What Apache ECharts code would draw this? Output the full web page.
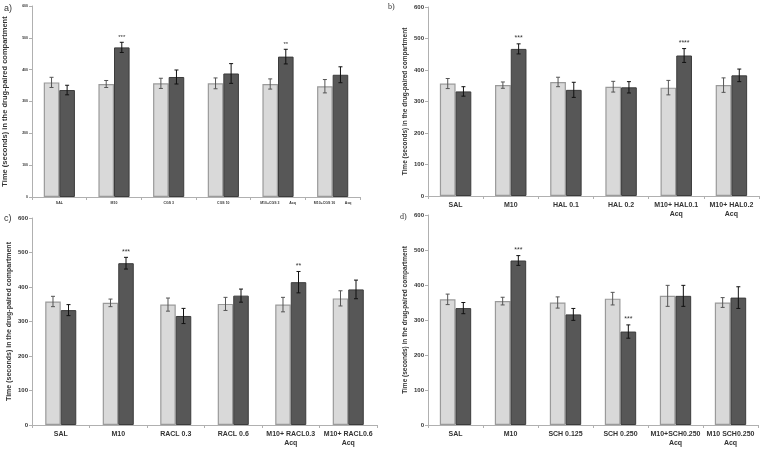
<!DOCTYPE html>
<html><head><meta charset="utf-8">
<script src="https://cdn.jsdelivr.net/npm/echarts@6/dist/echarts.min.js"></script>
<style>html,body{margin:0;padding:0;background:#fff}#c{width:762px;height:451px}</style>
</head><body><div id="c"></div>
<script>
// ---- data ----
const catsA = ['SAL','M10','CGS 3','CGS 10','M10+CGS 3          Acq','M10+CGS 10          Acq'];
const lightA = [360,355,357,357,355,348];
const lightErrA = [16,11,16,17,16,21];
const darkA = [336,470,377,388,441,384];
const darkErrA = [15,16,22,31,23,25];
const sigA = ['','***','','','**',''];

const catsB = ['SAL','M10','HAL 0.1','HAL 0.2','M10+ HAL0.1\nAcq','M10+ HAL0.2\nAcq'];
const lightB = [357,352,362,347,344,352];
const lightErrB = [16,10,15,17,23,23];
const darkB = [332,467,337,345,446,383];
const darkErrB = [15,16,24,18,22,20];
const sigB = ['','***','','','****',''];

const catsC = ['SAL','M10','RACL 0.3','RACL 0.6','M10+ RACL0.3\nAcq','M10+ RACL0.6\nAcq'];
const lightC = [358,354,349,351,349,367];
const lightErrC = [15,11,19,19,21,22];
const darkC = [333,469,316,375,414,393];
const darkErrC = [16,17,22,19,31,27];
const sigC = ['','***','','','**',''];

const catsD = ['SAL','M10','SCH 0.125','SCH 0.250','M10+SCH0.250\nAcq','M10 SCH0.250\nAcq'];
const lightD = [359,354,350,361,369,350];
const lightErrD = [15,11,16,18,30,14];
const darkD = [334,470,316,267,369,364];
const darkErrD = [16,14,17,19,30,31];
const sigD = ['','***','','***','',''];

const yTickLabels = ['0','100','200','300','400','500','600'];
const yName = 'Time (seconds) in the drug-paired compartment';
const panelLetters = ['a)','b)','c)','d)'];

// ---- layout/style ----
const FONT = '"Liberation Sans", Arial, sans-serif';
const panels = [
  {cats:catsA, light:lightA, le:lightErrA, dark:darkA, de:darkErrA, sig:sigA,
   grid:{left:32, top:6, width:328, height:191}, tickFs:3.5, catFs:3.5, nameFs:7.5, nameGap:23, gap:0.43, sigFs:6},
  {cats:catsB, light:lightB, le:lightErrB, dark:darkB, de:darkErrB, sig:sigB,
   grid:{left:428, top:7, width:331, height:189}, tickFs:6, catFs:7, nameFs:6.5, nameGap:19, gap:0.43, sigFs:7},
  {cats:catsC, light:lightC, le:lightErrC, dark:darkC, de:darkErrC, sig:sigC,
   grid:{left:32, top:218, width:345, height:207}, tickFs:6, catFs:7, nameFs:7, nameGap:19, gap:0.46, sigFs:7},
  {cats:catsD, light:lightD, le:lightErrD, dark:darkD, de:darkErrD, sig:sigD,
   grid:{left:428, top:215, width:330, height:210}, tickFs:6, catFs:7, nameFs:6.5, nameGap:19, gap:0.43, sigFs:7}
];

const grids = [], xAxes = [], yAxes = [], series = [];
panels.forEach((p, k) => {
  grids.push(Object.assign({containLabel:false}, p.grid));
  xAxes.push({
    type:'category', gridIndex:k, data:p.cats,
    axisLine:{lineStyle:{color:'#b0b0b0', width:1}},
    axisTick:{show:true, interval:0, length:3, lineStyle:{color:'#b0b0b0'}},
    axisLabel:{interval:0, fontSize:p.catFs, fontWeight:'bold', color:'#333', fontFamily:FONT, margin:4, lineHeight:p.catFs*1.35}
  });
  yAxes.push({
    type:'value', gridIndex:k, min:0, max:600, interval:100,
    name:yName, nameLocation:'middle', nameGap:p.nameGap, nameRotate:90,
    nameTextStyle:{fontSize:p.nameFs, fontWeight:'bold', color:'#333', fontFamily:FONT},
    axisLine:{show:true, lineStyle:{color:'#b0b0b0', width:1}},
    axisTick:{show:true, length:3, lineStyle:{color:'#b0b0b0'}},
    splitLine:{show:false},
    axisLabel:{fontSize:p.tickFs, fontWeight:'bold', color:'#333', fontFamily:FONT, margin:4,
      formatter:(v)=>yTickLabels[Math.round(v/100)]}
  });
  series.push({
    type:'bar', xAxisIndex:k, yAxisIndex:k, data:p.light, barGap:'0%', barCategoryGap:(p.gap*100)+'%',
    itemStyle:{color:'#d9d9d9', borderColor:'#9a9a9a', borderWidth:1.2}, silent:true
  });
  series.push({
    type:'bar', xAxisIndex:k, yAxisIndex:k, data:p.dark, barGap:'0%', barCategoryGap:(p.gap*100)+'%',
    itemStyle:{color:'#575757', borderColor:'#3c3c3c', borderWidth:1}, silent:true
  });
  [[p.light, p.le, -1, '#555'], [p.dark, p.de, 1, '#111']].forEach(([vals, errs, side, col], si) => {
    series.push({
      type:'custom', xAxisIndex:k, yAxisIndex:k, silent:true, z:5,
      data: vals.map((v,i)=>[i, v, errs[i]]),
      renderItem:(params, api) => {
        const i = api.value(0), v = api.value(1), e = api.value(2);
        const s = si === 1 ? p.sig[i] : '';
        const band = api.size([1,0])[0];
        const bw = band*(1-p.gap)/2;
        const cx = api.coord([i, v])[0] + side*bw/2;
        const yt = api.coord([i, v+e])[1], yb = api.coord([i, v-e])[1];
        const cap = 2;
        const ls = {stroke:col, lineWidth:1};
        const ch = [
          {type:'line', shape:{x1:cx, y1:yt, x2:cx, y2:yb}, style:ls},
          {type:'line', shape:{x1:cx-cap, y1:yt, x2:cx+cap, y2:yt}, style:ls},
          {type:'line', shape:{x1:cx-cap, y1:yb, x2:cx+cap, y2:yb}, style:ls}
        ];
        if (s) ch.push({type:'text', style:{text:s, x:cx, y:yt-2, align:'center', verticalAlign:'bottom',
          fontSize:p.sigFs, fontFamily:FONT, fill:'#333'}});
        return {type:'group', children:ch};
      }
    });
  });
});

const chart = echarts.init(document.getElementById('c'), null, {renderer:'canvas'});
chart.setOption({
  animation:false,
  backgroundColor:'#fff',
  grid:grids, xAxis:xAxes, yAxis:yAxes, series:series,
  graphic:[
    {type:'text', left:4, top:4, style:{text:panelLetters[0], fontSize:9, fill:'#333', fontFamily:FONT}},
    {type:'text', left:388, top:3, style:{text:panelLetters[1], fontSize:8, fill:'#333', fontFamily:'"Liberation Serif", serif'}},
    {type:'text', left:4, top:214, style:{text:panelLetters[2], fontSize:9, fill:'#333', fontFamily:FONT}},
    {type:'text', left:400, top:213, style:{text:panelLetters[3], fontSize:8, fill:'#333', fontFamily:'"Liberation Serif", serif'}}
  ]
});
</script></body></html>
